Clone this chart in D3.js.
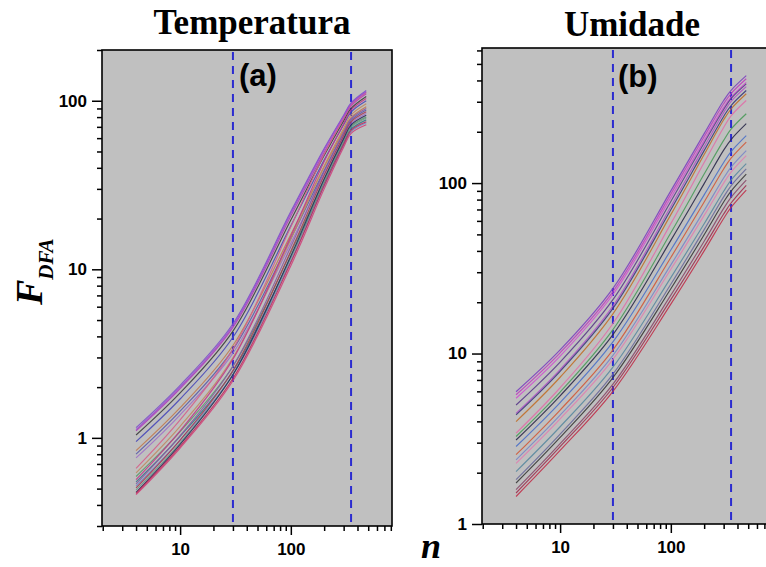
<!DOCTYPE html>
<html>
<head>
<meta charset="utf-8">
<script src="https://cdn.jsdelivr.net/npm/d3@7/dist/d3.min.js"></script>
<style>
  html, body { margin: 0; padding: 0; background: #fff; }
  svg { display: block; }
</style>
</head>
<body>
<svg id="chart" width="766" height="567"></svg>
<script>
// ---------------- DATA ----------------
const nValues = [4, 10, 30, 100, 200, 300, 350, 480];

// Panel (a) Temperatura – F_DFA at each n
const tempCurves = [
  [1.15, 2.05, 4.75, 22.0, 52.0, 82.0, 97.0, 115],
  [1.10, 1.96, 4.52, 20.7, 49.4, 78.5, 93.0, 110],
  [1.04, 1.85, 4.30, 19.6, 47.3, 75.9, 90.0, 106],
  [0.95, 1.70, 3.95, 18.1, 44.5, 72.1, 85.7, 100],
  [0.84, 1.51, 3.53, 16.1, 40.4, 66.7, 79.4, 92],
  [0.80, 1.44, 3.34, 15.2, 38.5, 64.1, 76.5, 88],
  [0.76, 1.37, 3.18, 14.3, 36.6, 61.5, 73.4, 84],
  [0.66, 1.28, 3.36, 17.9, 48.1, 78.9, 94.6, 112],
  [0.62, 1.17, 2.99, 15.1, 41.0, 68.7, 82.4, 96],
  [0.59, 1.09, 2.66, 12.6, 34.1, 58.6, 70.5, 80],
  [0.565, 1.10, 2.93, 15.7, 43.6, 73.0, 87.9, 103],
  [0.548, 1.02, 2.49, 11.8, 32.5, 56.4, 67.8, 77],
  [0.533, 1.03, 2.66, 13.6, 38.0, 64.9, 78.2, 90],
  [0.519, 0.97, 2.37, 11.2, 31.2, 54.5, 65.6, 74],
  [0.505, 0.97, 2.51, 12.8, 36.1, 62.2, 75.0, 86],
  [0.491, 0.935, 2.37, 11.7, 33.1, 57.7, 69.5, 79],
  [0.475, 0.916, 2.37, 12.0, 34.3, 59.6, 71.9, 82],
  [0.46, 0.87, 2.18, 10.5, 30.0, 53.0, 64.0, 72],
  [1.12, 2.00, 4.64, 21.5, 51.2, 80.9, 95.9, 113],
  [0.469, 0.891, 2.25, 11.0, 31.5, 55.2, 66.7, 75]
];

// Panel (b) Umidade – F_DFA at each n
const humCurves = [
  [5.97, 10.5, 24.1, 90.0, 195, 305, 350, 427],
  [5.73, 10.1, 23.1, 86.1, 187, 292, 335, 409],
  [5.47, 9.66, 22.2, 82.2, 178, 278, 319, 390],
  [4.99, 8.91, 20.7, 78.0, 172, 270, 313, 382],
  [4.46, 8.05, 19.0, 72.8, 163, 259, 301, 368],
  [4.37, 7.87, 18.4, 69.8, 155, 246, 285, 349],
  [3.99, 7.26, 17.1, 65.3, 147, 235, 272, 334],
  [3.41, 6.30, 15.0, 57.8, 132, 212, 248, 305],
  [3.26, 5.94, 13.8, 51.1, 113, 178, 207, 255],
  [3.11, 5.65, 12.9, 46.1, 99.3, 156, 180, 223],
  [2.85, 5.16, 11.7, 40.5, 85.3, 132, 153, 190],
  [2.55, 4.66, 10.5, 36.6, 77.4, 121, 140, 174],
  [2.38, 4.35, 9.75, 33.1, 69.0, 107, 124, 155],
  [2.27, 4.14, 9.25, 31.2, 64.6, 100, 116, 145],
  [2.03, 3.72, 8.32, 27.9, 57.7, 89.5, 104, 130],
  [1.82, 3.37, 7.57, 25.5, 53.3, 83.0, 96.4, 121],
  [1.74, 3.22, 7.23, 24.0, 49.8, 77.4, 89.8, 113],
  [1.59, 2.96, 6.62, 22.0, 45.6, 71.0, 82.4, 104],
  [1.52, 2.84, 6.32, 20.7, 42.5, 65.8, 76.4, 97],
  [1.45, 2.70, 6.00, 19.5, 40.0, 62.0, 72.0, 91]
];

const crossovers = [30, 350];
const xMajorTicks = [10, 100];
const xMinorTicks = [2,3,4,5,6,7,8,9,20,30,40,50,60,70,80,90,200,300,400,500,600,700,800];
const yMajorTicksA = [1, 10, 100];
const yMinorTicksA = [0.3,0.4,0.5,0.6,0.7,0.8,0.9,2,3,4,5,6,7,8,9,20,30,40,50,60,70,80,90,200];
const yMajorTicksB = [1, 10, 100];
const yMinorTicksB = [2,3,4,5,6,7,8,9,20,30,40,50,60,70,80,90,200,300,400,500,600];
const titles = ["Temperatura", "Umidade"];
const panelLabels = ["(a)", "(b)"];

const colorsA = ['#7b52c9','#b03cb8','#3c3c3c','#4848b8','#c07a50','#5a5aa8','#a070c8','#d4608a',
                 '#c08860','#5a9a6a','#c03a8a','#3a7a8a','#8a5aa0','#6a8ac8','#a83a50','#6a9a8a',
                 '#2a2a5a','#d0407a','#9a4ad0','#c02a5a'];
const colorsB = ['#7b3fbf','#c03cc0','#d04fd0','#5a3a8a','#b050c8','#3a3a7a','#c0702a','#e070a8',
                 '#4a9a5a','#2a2a4a','#4a70c8','#d05a3a','#7a86c8','#e080b0','#5a8aa0','#6a6a9a',
                 '#3a3a3a','#8a4a6a','#a03050','#c0304a'];

// ---------------- DRAW ----------------
const svg = d3.select("#chart");
const sansBold = "'Liberation Sans', Arial, sans-serif";
const serif = "'Liberation Serif', 'Times New Roman', serif";

const panels = [
  { x0: 102, x1: 392, y0: 50, y1: 526, yDomain: [0.3, 200], curves: tempCurves, colors: colorsA,
    yMaj: yMajorTicksA, yMin: yMinorTicksA, title: titles[0], tx: 252, ty: 33.5,
    label: panelLabels[0], lx: 239, ly: 86 },
  { x0: 482, x1: 772, y0: 48, y1: 524, yDomain: [1, 620], curves: humCurves, colors: colorsB,
    yMaj: yMajorTicksB, yMin: yMinorTicksB, title: titles[1], tx: 632, ty: 36,
    label: panelLabels[1], lx: 618, ly: 87 }
];

panels.forEach((p, pi) => {
  const x = d3.scaleLog().domain([1.97, 820]).range([p.x0, p.x1]);
  const y = d3.scaleLog().domain(p.yDomain).range([p.y1, p.y0]);
  const g = svg.append("g");

  const clipId = "clip" + pi;
  svg.append("clipPath").attr("id", clipId).append("rect")
    .attr("x", p.x0).attr("y", p.y0).attr("width", p.x1 - p.x0).attr("height", p.y1 - p.y0);

  g.append("rect").attr("x", p.x0).attr("y", p.y0)
    .attr("width", p.x1 - p.x0).attr("height", p.y1 - p.y0)
    .attr("fill", "#c0c0c0");

  const plot = g.append("g").attr("clip-path", `url(#${clipId})`);

  // dashed crossover lines
  plot.selectAll("line.cross").data(crossovers).join("line")
    .attr("class", "cross")
    .attr("x1", d => x(d)).attr("x2", d => x(d))
    .attr("y1", p.y0 + 2).attr("y2", p.y1 - 4)
    .attr("stroke", "#2b2bd0").attr("stroke-width", 2)
    .attr("stroke-dasharray", "8,6");

  const line = d3.line()
    .x((d, i) => x(nValues[i]))
    .y(d => y(d))
    .curve(d3.curveCatmullRom.alpha(0.5));

  plot.selectAll("path.curve").data(p.curves).join("path")
    .attr("class", "curve")
    .attr("d", d => line(d))
    .attr("fill", "none")
    .attr("stroke", (d, i) => p.colors[i % p.colors.length])
    .attr("stroke-width", 1.15)
    .attr("stroke-opacity", 0.9);

  // axes
  g.append("g").attr("transform", `translate(0,${p.y1})`)
    .call(d3.axisBottom(x).tickValues(xMajorTicks).tickSize(9).tickPadding(8).tickFormat(d3.format("d")));
  g.append("g").attr("transform", `translate(0,${p.y1})`)
    .call(d3.axisBottom(x).tickValues(xMinorTicks).tickSize(5).tickFormat(""));
  g.append("g").attr("transform", `translate(${p.x0},0)`)
    .call(d3.axisLeft(y).tickValues(p.yMaj).tickSize(10).tickPadding(5).tickFormat(d3.format("d")));
  g.append("g").attr("transform", `translate(${p.x0},0)`)
    .call(d3.axisLeft(y).tickValues(p.yMin).tickSize(5).tickFormat(""));

  g.selectAll(".domain").remove();
  g.selectAll(".tick line").attr("stroke", "#000").attr("stroke-width", 1.5);
  g.selectAll(".tick text").attr("font-family", sansBold).attr("font-weight", "bold")
    .attr("font-size", 17).attr("fill", "#000");

  // frame
  g.append("rect").attr("x", p.x0).attr("y", p.y0)
    .attr("width", p.x1 - p.x0).attr("height", p.y1 - p.y0)
    .attr("fill", "none").attr("stroke", "#000").attr("stroke-width", 1.6);

  // title
  svg.append("text").attr("x", p.tx).attr("y", p.ty)
    .attr("text-anchor", "middle")
    .attr("font-family", serif).attr("font-weight", "bold").attr("font-size", 35)
    .attr("fill", "#000").text(p.title);

  // panel label
  svg.append("text").attr("x", p.lx).attr("y", p.ly)
    .attr("font-family", sansBold).attr("font-weight", "bold").attr("font-size", 31)
    .attr("fill", "#000").text(p.label);
});

// Y axis title F_DFA
const yt = svg.append("text")
  .attr("transform", "translate(42,305) rotate(-90)")
  .attr("font-family", serif).attr("font-weight", "bold").attr("font-style", "italic")
  .attr("fill", "#000");
yt.append("tspan").attr("font-size", 38).text("F");
yt.append("tspan").attr("font-size", 21).attr("dy", 11).text("DFA");

// X axis title n
svg.append("text").attr("x", 421).attr("y", 558)
  .attr("font-family", serif).attr("font-weight", "bold").attr("font-style", "italic")
  .attr("font-size", 36).attr("fill", "#000").text("n");
</script>
</body>
</html>
